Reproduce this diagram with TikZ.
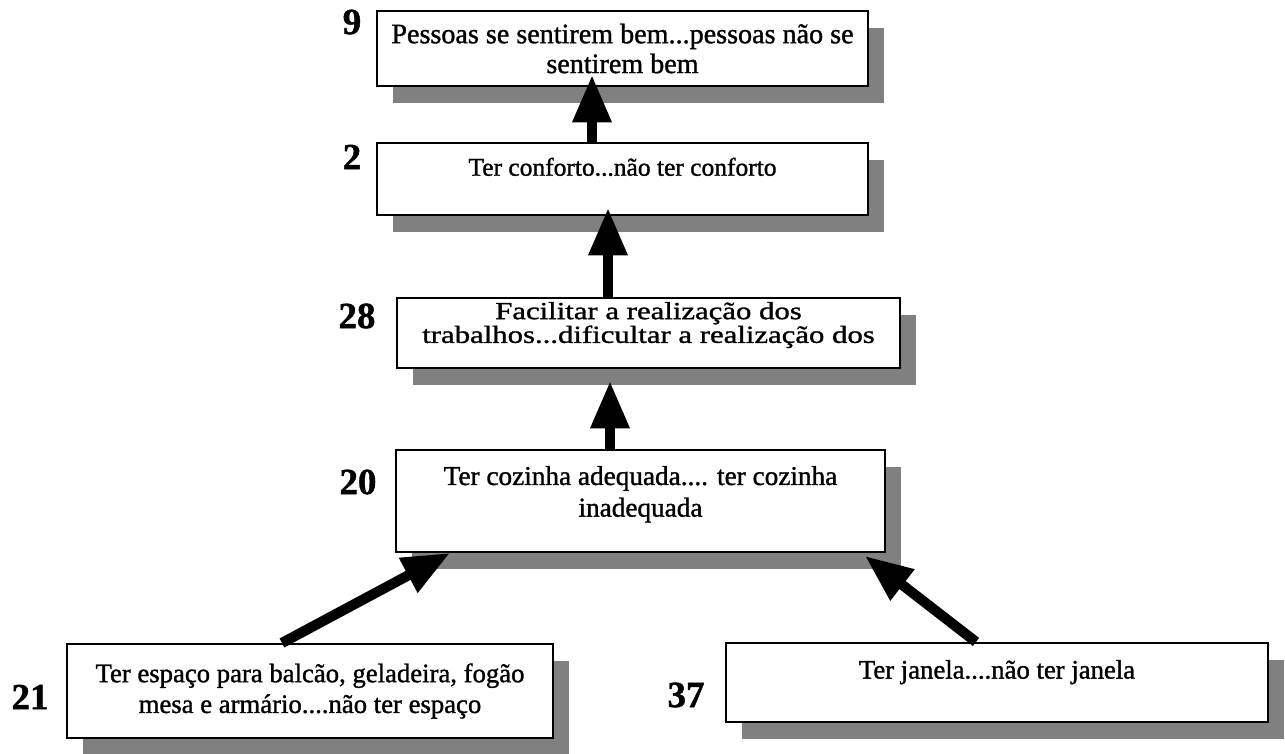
\documentclass[tikz,border=0pt]{standalone}
\usepackage{fontspec}
\setmainfont{Liberation Serif}[FakeBold=1.2]
\newfontfamily\widefont{Liberation Serif}[FakeStretch=1.25, FakeBold=1.2]
\usetikzlibrary{arrows.meta, shadows}

\tikzset{
  crit/.style={draw, line width=1.2pt, fill=white, align=center, inner sep=2pt,
    font=\fontsize{15.2}{17.5}\selectfont,
    drop shadow={shadow xshift=0.32cm, shadow yshift=-0.34cm, opacity=1, fill=black!50}},
  num/.style={font=\fontsize{21}{24}\selectfont\bfseries},
  up/.style={-{Triangle[length=27pt, width=21pt]}, line width=5.8pt}
}

\begin{document}
\begin{tikzpicture}[x=0.02cm, y=-0.02cm]
\useasboundingbox (0,0) rectangle (1285,754);

\path (622.5,48.5) node[crit, minimum width=9.82cm, minimum height=1.5cm, font=\fontsize{16}{17}\selectfont] (n9) {Pessoas se sentirem bem...pessoas não se\\sentirem bem}
      (622.5,179) node[crit, minimum width=9.82cm, minimum height=1.44cm, text depth=14pt, font=\fontsize{14.5}{17}\selectfont] (n2) {Ter conforto...não ter conforto}
      (648.5,333) node[crit, minimum width=10.06cm, minimum height=1.4cm, inner sep=1pt, text depth=12pt, font=\widefont\fontsize{14}{13.5}\selectfont] (n28) {Facilitar a realização dos\\trabalhos...dificultar a realização dos}
      (640.5,501) node[crit, minimum width=9.78cm, minimum height=2.04cm, text depth=11pt, font=\fontsize{15.5}{18}\selectfont] (n20) {Ter cozinha adequada.... ter cozinha\\inadequada}
      (310,691) node[crit, minimum width=9.72cm, minimum height=1.88cm] (n21) {Ter espaço para balcão, geladeira, fogão\\mesa e armário....não ter espaço}
      (997,682.5) node[crit, minimum width=10.84cm, minimum height=1.58cm, text depth=15pt] (n37) {Ter janela....não ter janela};

\path (352,22) node[num] (l9) {9}
      (352,157) node[num] (l2) {2}
      (357,316) node[num] (l28) {28}
      (358,482) node[num] (l20) {20}
      (30,697) node[num] (l21) {21}
      (686,695) node[num] (l37) {37};

\coordinate (t9) at (592,75);
\coordinate (t2) at (608,208);
\coordinate (t28) at (610,381);
\coordinate (t20a) at (450,553);
\coordinate (t20b) at (865,556);

\draw[up] (n2.north -| t9) to (t9);
\draw[up] (n28.north -| t2) to (t2);
\draw[up] (n20.north -| t28) to (t28);
\draw[up] (n21.north -| 282,0) to (t20a);
\draw[up] (n37.north -| 976,0) to (t20b);

\end{tikzpicture}
\end{document}
